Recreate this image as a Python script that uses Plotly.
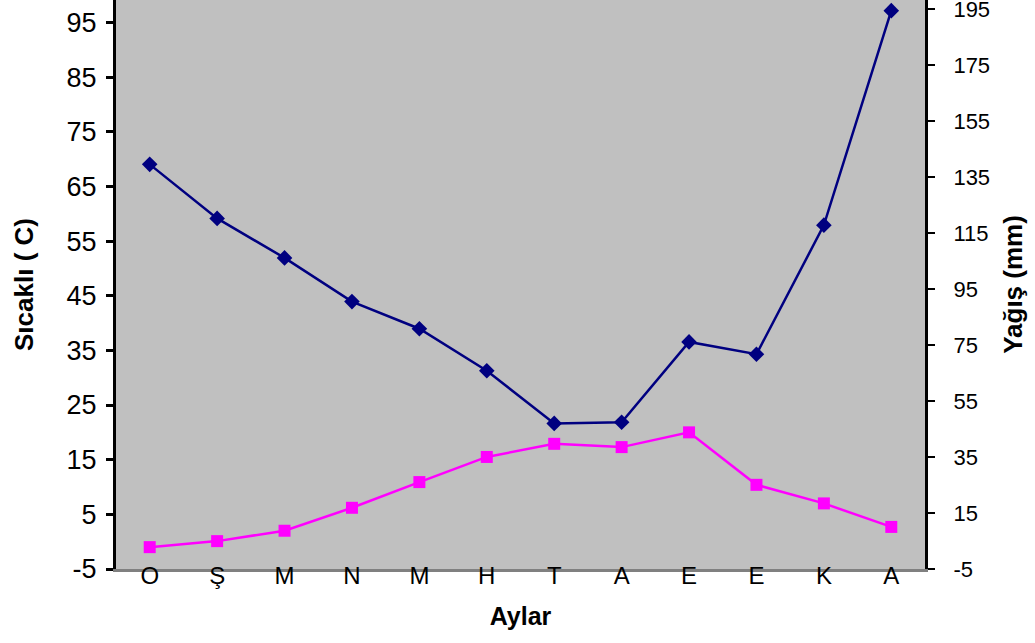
import plotly.graph_objects as go

months = ["O", "Ş", "M", "N", "M", "H", "T", "A", "E", "E", "K", "A"]
temperature = [-1.0, 0.1, 2.0, 6.2, 10.9, 15.5, 17.9, 17.3, 20.0, 10.4, 7.0, 2.7]
precipitation = [139.5, 120.2, 106.1, 90.5, 80.8, 65.8, 47.0, 47.4, 76.1, 71.7, 117.8, 194.4]

left_ticks = [-5, 5, 15, 25, 35, 45, 55, 65, 75, 85, 95]
left_labels = ["-5", "5", "15", "25", "35", "45", "55", "65", "75", "85", "95"]
right_ticks = [-5, 15, 35, 55, 75, 95, 115, 135, 155, 175, 195]
right_labels = ["-5", "15", "35", "55", "75", "95", "115", "135", "155", "175", "195"]
left_range = [-5, 99.1]
right_range = [-5, 198.2]

x_idx = list(range(len(months)))
font = "Liberation Sans, Arial, sans-serif"

fig = go.Figure()
fig.add_trace(go.Scatter(
    x=x_idx, y=temperature, mode="lines+markers", yaxis="y",
    line=dict(color="#FF00FF", width=2.5),
    marker=dict(symbol="square", size=12, color="#FF00FF"),
    showlegend=False, cliponaxis=False))
fig.add_trace(go.Scatter(
    x=x_idx, y=precipitation, mode="lines+markers", yaxis="y2",
    line=dict(color="#000080", width=2.5),
    marker=dict(symbol="diamond", size=12, color="#000080"),
    showlegend=False, cliponaxis=False))

zero_pos = (0 - left_range[0]) / (left_range[1] - left_range[0])
between = [i + 0.5 for i in range(len(months) - 1)]

fig.update_layout(
    width=1035, height=643,
    margin=dict(l=116, r=110, t=0, b=74, autoexpand=False),
    paper_bgcolor="white", plot_bgcolor="#C0C0C0",
    font=dict(family=font, color="black"),
    xaxis=dict(
        range=[-0.5, len(months) - 0.5], tickmode="array",
        tickvals=x_idx, ticktext=months, showgrid=False, zeroline=False,
        showline=True, linecolor="#808080", linewidth=3, ticks="", automargin=False,
        tickfont=dict(size=24, family=font), ticklabelstandoff=-17,
        title=dict(text="<b>Aylar</b>", font=dict(size=25, family=font), standoff=20),
    ),
    xaxis2=dict(
        overlaying="x", anchor="free", position=zero_pos, side="bottom",
        range=[-0.5, len(months) - 0.5], tickmode="array", tickvals=between,
        showticklabels=False, ticks="outside", ticklen=8, tickwidth=1.5, tickcolor="black",
        showline=True, linecolor="black", linewidth=1.5, showgrid=False, zeroline=False,
        automargin=False,
    ),
    xaxis3=dict(
        overlaying="x", anchor="free", position=zero_pos, side="bottom",
        range=[-0.5, len(months) - 0.5], tickmode="array", tickvals=between,
        showticklabels=False, ticks="inside", ticklen=8, tickwidth=1.5, tickcolor="black",
        showline=False, showgrid=False, zeroline=False, automargin=False,
    ),
    yaxis=dict(
        range=left_range, tickmode="array", tickvals=left_ticks, ticktext=left_labels,
        showgrid=False, zeroline=False, showline=True, linecolor="black", linewidth=3,
        ticks="outside", ticklen=7, tickwidth=3, tickcolor="black", automargin=False,
        tickfont=dict(size=27, family=font), ticklabelstandoff=4,
        ticklabeloverflow="allow",
        title=dict(text="<b>Sıcaklı ( C)</b>", font=dict(size=26, family=font), standoff=26),
    ),
    yaxis2=dict(
        overlaying="y", side="right", anchor="x",
        range=right_range, tickmode="array", tickvals=right_ticks, ticktext=right_labels,
        showgrid=False, zeroline=False, showline=True, linecolor="black", linewidth=3,
        ticks="outside", ticklen=7, tickwidth=2, tickcolor="black", automargin=False,
        tickfont=dict(size=22, family=font), ticklabelstandoff=14,
        ticklabeloverflow="allow",
        title=dict(text="<b>Yağış (mm)</b>", font=dict(size=26, family=font), standoff=15),
    ),
    yaxis3=dict(
        overlaying="y", side="right", anchor="x",
        range=right_range, tickmode="array", tickvals=right_ticks,
        showticklabels=False, showgrid=False, zeroline=False, showline=False,
        ticks="inside", ticklen=10, tickwidth=2, tickcolor="black", automargin=False,
    ),
)

fig.write_html("out.html", config={"displayModeBar": False},
               post_script="document.body.style.margin='0';")
